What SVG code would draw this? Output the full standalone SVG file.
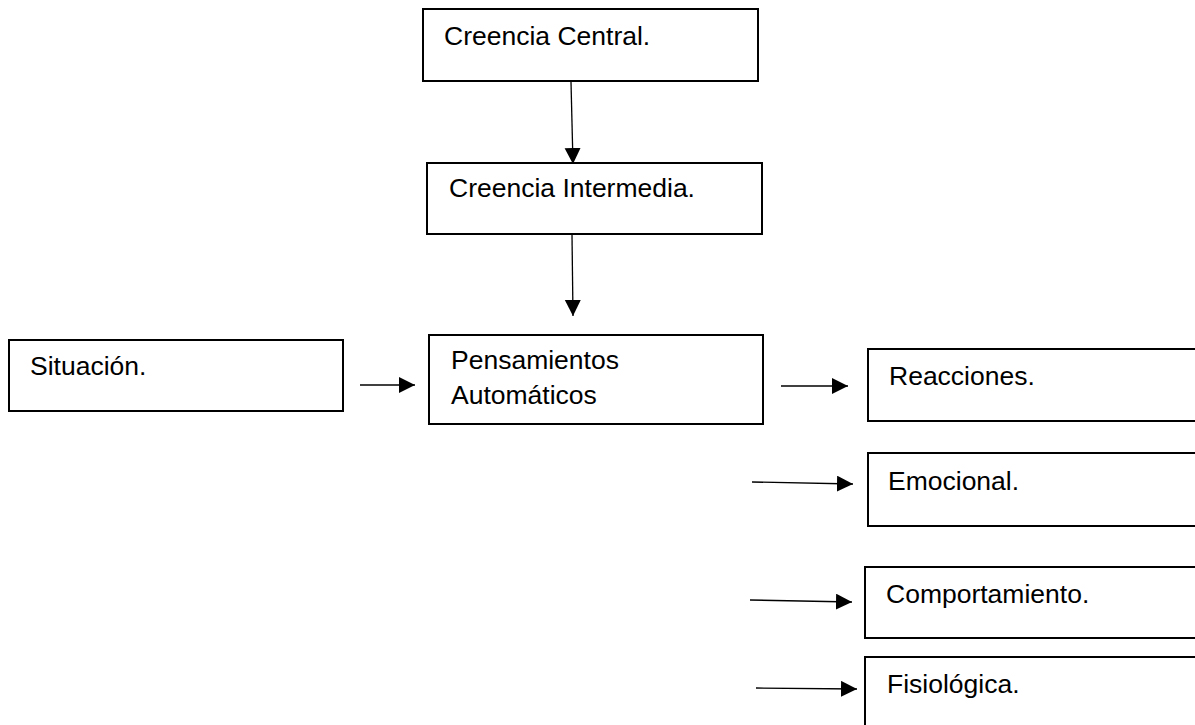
<svg xmlns="http://www.w3.org/2000/svg" width="1195" height="725" viewBox="0 0 1195 725">
  <style>
    .box { fill: #ffffff; stroke: #000000; stroke-width: 2; }
    .lbl { font-family: "Liberation Sans", Arial, sans-serif; font-size: 26.5px; fill: #000000; }
    .conn { stroke: #000000; stroke-width: 1.3; fill: none; marker-end: url(#arrow); }
  </style>
  <defs>
    <marker id="arrow" markerUnits="userSpaceOnUse" markerWidth="17" markerHeight="17" refX="16" refY="8" orient="auto">
      <path d="M0,0 L16,8 L0,16 Z" fill="#000000"/>
    </marker>
  </defs>
  <rect width="1195" height="725" fill="#ffffff"/>

  <g id="connectors">
    <line class="conn" x1="571" y1="82" x2="573" y2="164"/>
    <line class="conn" x1="572" y1="235" x2="573" y2="316"/>
    <line class="conn" x1="360" y1="385" x2="415" y2="385"/>
    <line class="conn" x1="781" y1="386" x2="848" y2="386"/>
    <line class="conn" x1="752" y1="482" x2="853" y2="484"/>
    <line class="conn" x1="750" y1="600" x2="852" y2="602"/>
    <line class="conn" x1="756" y1="688" x2="857" y2="689"/>
  </g>

  <g id="creencia-central">
    <rect class="box" x="423" y="9" width="335" height="72"/>
    <text class="lbl" x="444" y="45">Creencia Central.</text>
  </g>
  <g id="creencia-intermedia">
    <rect class="box" x="427" y="163" width="335" height="71"/>
    <text class="lbl" x="449" y="197">Creencia Intermedia.</text>
  </g>
  <g id="situacion">
    <rect class="box" x="9" y="340" width="334" height="71"/>
    <text class="lbl" x="30" y="375">Situación.</text>
  </g>
  <g id="pensamientos">
    <rect class="box" x="429" y="335" width="334" height="89"/>
    <text class="lbl" x="451" y="369">Pensamientos</text>
    <text class="lbl" x="451" y="404">Automáticos</text>
  </g>
  <g id="reacciones">
    <rect class="box" x="868" y="349" width="400" height="72"/>
    <text class="lbl" x="889" y="385">Reacciones.</text>
  </g>
  <g id="emocional">
    <rect class="box" x="868" y="453" width="400" height="73"/>
    <text class="lbl" x="888" y="490">Emocional.</text>
  </g>
  <g id="comportamiento">
    <rect class="box" x="865" y="567" width="400" height="71"/>
    <text class="lbl" x="886" y="603">Comportamiento.</text>
  </g>
  <g id="fisiologica">
    <rect class="box" x="865" y="657" width="400" height="100"/>
    <text class="lbl" x="887" y="693">Fisiológica.</text>
  </g>
</svg>
